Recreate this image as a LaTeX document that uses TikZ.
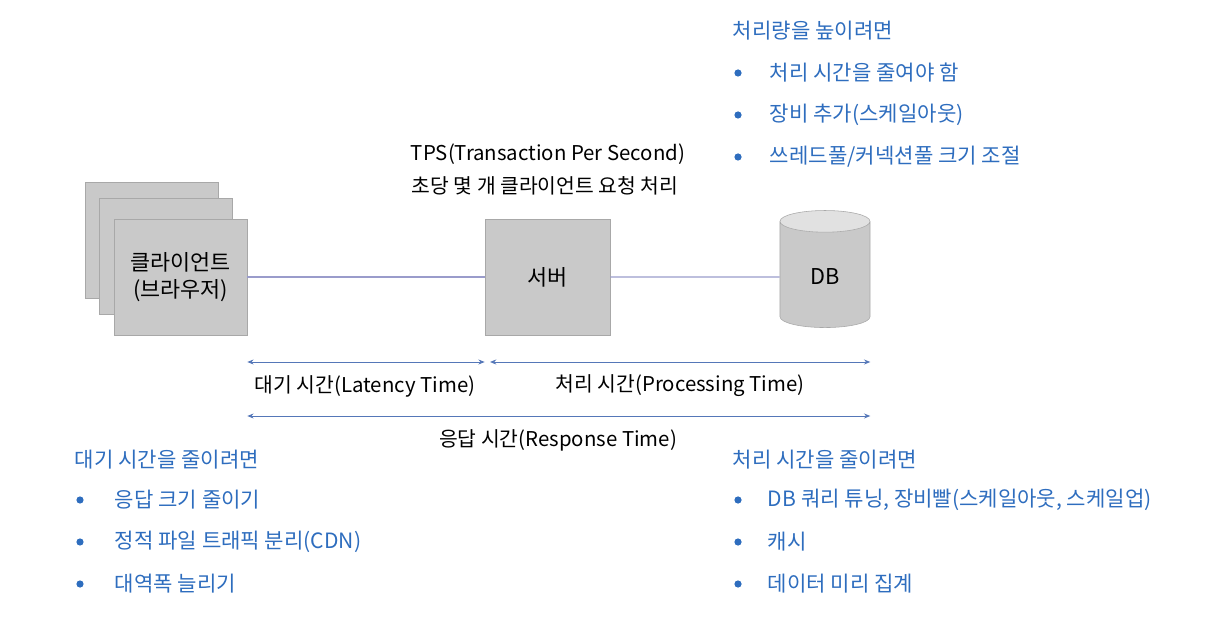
\documentclass[tikz,border=0pt]{standalone}
\usepackage{fontspec}
\setmainfont{Noto Sans CJK KR}
\usetikzlibrary{arrows.meta, positioning, shapes.geometric}
\definecolor{note}{HTML}{2E6DBE}
\definecolor{wirecol}{HTML}{9A9CCB}
\definecolor{spancol}{HTML}{5577B8}
\definecolor{boxgray}{HTML}{C9C9C9}
\definecolor{boxline}{HTML}{A8A8A8}

\begin{document}
\begin{tikzpicture}[
    x=0.025cm, y=-0.025cm,
    >={Stealth[length=4.5pt, width=3.6pt]},
    box/.style={draw=boxline, fill=boxgray,
                minimum width=3.325cm, minimum height=2.9cm,
                font=\fontsize{15.5}{19}\selectfont, align=center},
    hand/.style={font=\fontsize{14.5}{17}\selectfont},
    head/.style={font=\fontsize{15}{18}\selectfont, text=note, anchor=west},
    item/.style={font=\fontsize{15}{18}\selectfont, text=note, anchor=west},
    wire/.style={draw=wirecol, line width=0.8pt},
    span/.style={draw=spancol, line width=0.6pt, <->}
  ]
  \useasboundingbox (0,0) rectangle (1222,622);

  % Client (stacked)
  \node[box] (back2) at (151.5,240.5) {};
  \node[box] (back1) at (165.5,256) {};
  \node[box] (client) at (180.5,277) {클라이언트\\(브라우저)};

  % Server and DB
  \node[box, minimum width=3.125cm] (server) at (547.5,277) {서버};
  \node[cylinder, shape border rotate=90, draw=boxline, aspect=0.56,
        cylinder uses custom fill, cylinder body fill=boxgray,
        cylinder end fill=boxgray!55,
        minimum width=2.25cm, minimum height=2.925cm,
        font=\fontsize{15.5}{19}\selectfont] (db) at (825,277) {DB};

  \draw[wire] (server) -- (db);
  \draw[wire] (client) -- (server);

  % TPS
  \node[hand] (tps) at (548,154) {TPS(Transaction Per Second)};
  \node[hand] (tpsko) at (545,186) {초당 몇 개 클라이언트 요청 처리};

  % Times
  \coordinate (lat0) at (client.east |- 0,362);
  \coordinate (lat1) at (server.west |- 0,362);
  \coordinate (proc0) at (490,362);
  \coordinate (proc1) at (db.east |- 0,362);
  \coordinate (resp0) at (client.east |- 0,416);
  \coordinate (resp1) at (db.east |- 0,416);
  \draw[span] (lat0) -- (lat1);
  \draw[span] (proc0) -- (proc1);
  \draw[span] (resp0) -- (resp1);
  \node[hand] (latency) at (365,386) {대기 시간(Latency Time)};
  \node[hand] (processing) at (680,386) {처리 시간(Processing Time)};
  \node[hand] (response) at (558,440) {응답 시간(Response Time)};

  % Throughput notes
  \node[head] (tput) at (728,31) {처리량을 높이려면};
  \node[item] (tput1) at (765,73) {처리 시간을 줄여야 함};
  \node[item] (tput2) at (765,115) {장비 추가(스케일아웃)};
  \node[item] (tput3) at (765,157) {쓰레드풀/커넥션풀 크기 조절};

  % Latency notes
  \node[head] (lnote) at (70,460) {대기 시간을 줄이려면};
  \node[item] (lnote1) at (110,500) {응답 크기 줄이기};
  \node[item] (lnote2) at (110,542) {정적 파일 트래픽 분리(CDN)};
  \node[item] (lnote3) at (110,584) {대역폭 늘리기};

  % Processing notes
  \node[head] (pnote) at (728,460) {처리 시간을 줄이려면};
  \node[item] (pnote1) at (763,500) {DB 쿼리 튜닝, 장비빨(스케일아웃, 스케일업)};
  \node[item] (pnote2) at (763,542) {캐시};
  \node[item] (pnote3) at (763,584) {데이터 미리 집계};

  \foreach \y in {73,115,157} \fill[note] (738,\y) circle (0.09cm);
  \foreach \y in {500,542,584} {
    \fill[note] (80,\y) circle (0.09cm);
    \fill[note] (738,\y) circle (0.09cm);
  }
\end{tikzpicture}
\end{document}
